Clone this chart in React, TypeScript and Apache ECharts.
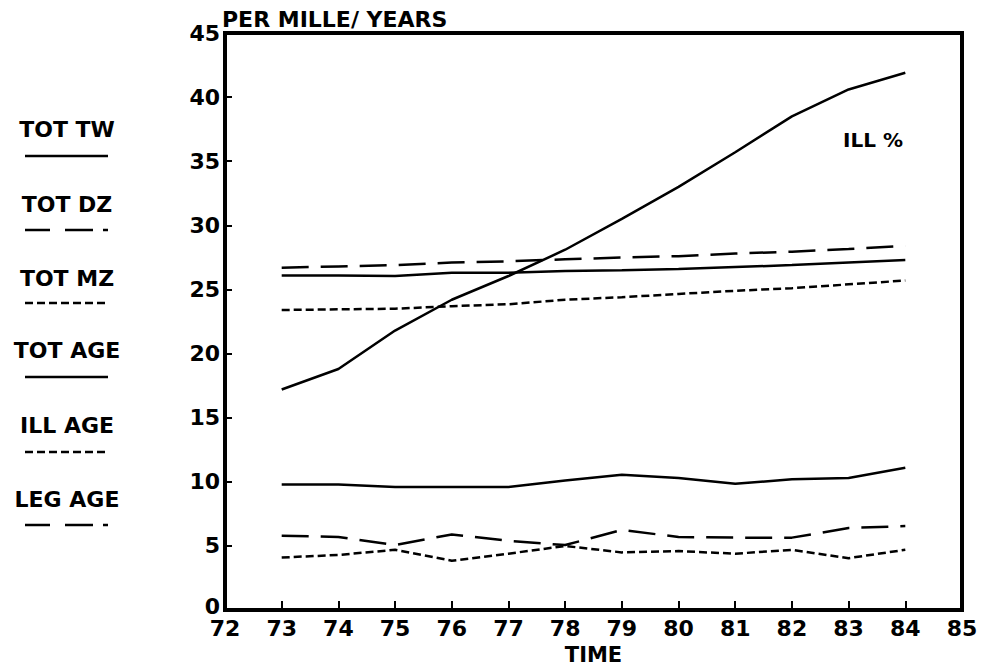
import React, { useEffect, useRef } from "react";
import * as echarts from "echarts";

const years = [73, 74, 75, 76, 77, 78, 79, 80, 81, 82, 83, 84];
const illPct = [17.2, 18.8, 21.8, 24.2, 26.05, 28.1, 30.5, 33.0, 35.7, 38.5, 40.6, 41.9];
const totTW = [26.1, 26.1, 26.05, 26.3, 26.3, 26.45, 26.5, 26.6, 26.75, 26.9, 27.1, 27.3];
const totDZ = [26.7, 26.8, 26.9, 27.1, 27.2, 27.35, 27.5, 27.6, 27.8, 27.95, 28.15, 28.4];
const totMZ = [23.4, 23.45, 23.5, 23.7, 23.85, 24.2, 24.4, 24.65, 24.9, 25.1, 25.4, 25.7];
const totAGE = [9.8, 9.8, 9.6, 9.6, 9.6, 10.1, 10.55, 10.3, 9.85, 10.2, 10.3, 11.1];
const legAGE = [5.8, 5.7, 5.07, 5.9, 5.4, 5.07, 6.25, 5.7, 5.65, 5.65, 6.4, 6.55];
const illAGE = [4.1, 4.3, 4.7, 3.85, 4.4, 5.0, 4.5, 4.6, 4.4, 4.7, 4.05, 4.7];

const legendNames = ["TOT TW", "TOT DZ", "TOT MZ", "TOT AGE", "ILL AGE", "LEG AGE"];
const yTitle = "PER MILLE/ YEARS";
const xTitle = "TIME";
const annotation = "ILL %";

const FONT = "DejaVu Sans";
const SOLID: number[] | null = null;
const DASH = [27, 12];
const DOT = [8, 4];
const DASHDOT = [25, 15, 28, 10, 5, 12];

const pairs = (vals: number[]) => vals.map((v, i) => [years[i], v]);

export default function App() {
  const ref = useRef<HTMLDivElement>(null);
  useEffect(() => {
    if (!ref.current) return;
    const chart = echarts.init(ref.current, null, { renderer: "svg" });

    const mkLine = (name: string, vals: number[], dash: number[] | null) => ({
      name,
      type: "line",
      data: pairs(vals),
      showSymbol: false,
      symbol: "none",
      lineStyle: {
        color: "#000",
        width: 2.5,
        type: dash ? dash : "solid",
      },
      silent: true,
    });

    const legendStyles: (number[] | null)[] = [SOLID, DASHDOT, DOT, SOLID, DOT, DASHDOT];
    const textYs = [129, 204, 278, 350, 425, 499];
    const lineYs = [156, 230, 303, 377, 452, 525];
    const graphics: any[] = [];
    legendNames.forEach((n, i) => {
      graphics.push({
        type: "text",
        style: {
          text: n,
          x: 67,
          y: textYs[i],
          textAlign: "center",
          textVerticalAlign: "middle",
          font: `bold 22px '${FONT}'`,
          fill: "#000",
        },
      });
      graphics.push({
        type: "line",
        shape: { x1: 25, y1: lineYs[i], x2: 108, y2: lineYs[i] },
        style: {
          stroke: "#000",
          lineWidth: 2.5,
          lineDash: legendStyles[i] ? legendStyles[i] : null,
        },
      });
    });
    graphics.push({
      type: "text",
      style: {
        text: annotation,
        x: 873,
        y: 140,
        textAlign: "center",
        textVerticalAlign: "middle",
        font: `bold 20px '${FONT}'`,
        fill: "#000",
      },
    });
    graphics.push({
      type: "text",
      style: {
        text: yTitle,
        x: 222,
        y: 19,
        textAlign: "left",
        textVerticalAlign: "middle",
        font: `bold 22px '${FONT}'`,
        fill: "#000",
      },
    });

    chart.setOption({
      animation: false,
      backgroundColor: "#fff",
      grid: {
        left: 225,
        right: 22,
        top: 33,
        bottom: 58,
        show: true,
        borderColor: "#000",
        borderWidth: 4,
        backgroundColor: "transparent",
      },
      xAxis: {
        type: "value",
        min: 72,
        max: 85,
        interval: 1,
        name: xTitle,
        nameLocation: "middle",
        nameGap: 33,
        nameTextStyle: { fontFamily: FONT, fontWeight: "bold", fontSize: 21, color: "#000" },
        axisLine: { show: true, lineStyle: { color: "#000", width: 4 } },
        axisTick: { show: true, inside: true, length: 9, lineStyle: { color: "#000", width: 2 } },
        axisLabel: { fontFamily: FONT, fontWeight: "bold", fontSize: 22, color: "#000", margin: 7 },
        splitLine: { show: false },
      },
      yAxis: {
        type: "value",
        min: 0,
        max: 45,
        interval: 5,
        axisLine: { show: true, lineStyle: { color: "#000", width: 4 } },
        axisTick: { show: true, inside: true, length: 7, lineStyle: { color: "#000", width: 2 } },
        axisLabel: {
          fontFamily: FONT,
          fontWeight: "bold",
          fontSize: 22,
          color: "#000",
          margin: 5,
          formatter: (v: number) => (v === 0 ? "{z|0}" : String(v)),
          rich: {
            z: { fontFamily: FONT, fontWeight: "bold", fontSize: 22, color: "#000", padding: [0, 0, 8, 0] },
          },
        },
        splitLine: { show: false },
      },
      graphic: graphics,
      series: [
        mkLine(annotation, illPct, SOLID),
        mkLine("TOT TW", totTW, SOLID),
        mkLine("TOT DZ", totDZ, DASH),
        mkLine("TOT MZ", totMZ, DOT),
        mkLine("TOT AGE", totAGE, SOLID),
        mkLine("ILL AGE", illAGE, DOT),
        mkLine("LEG AGE", legAGE, DASH),
      ],
    });
    return () => chart.dispose();
  }, []);
  return (
    <div
      ref={ref}
      style={{ position: "absolute", left: 0, top: 0, width: 984, height: 670, background: "#fff" }}
    />
  );
}
